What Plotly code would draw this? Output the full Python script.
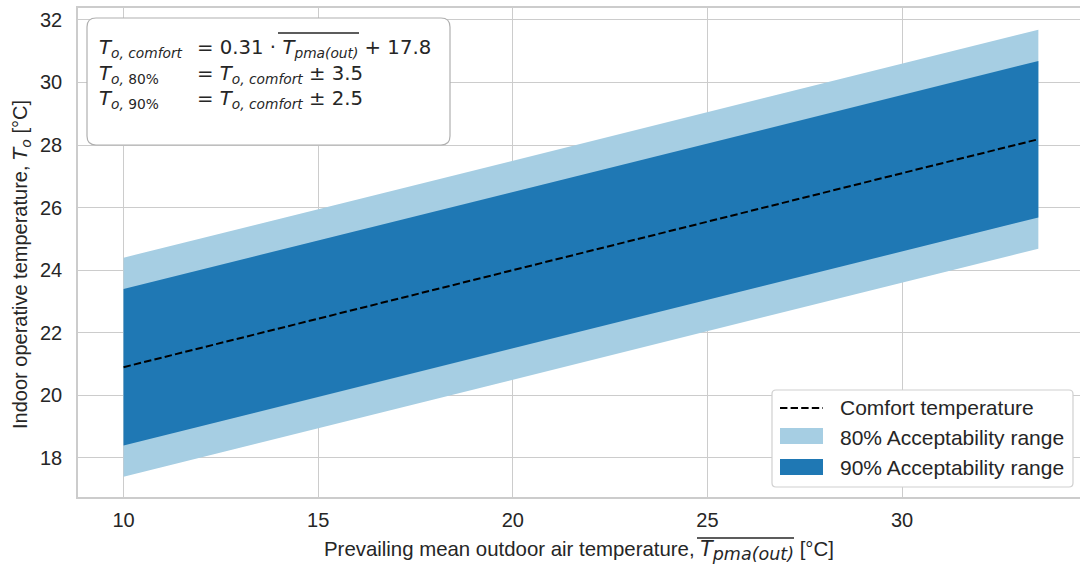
import plotly.graph_objects as go

# Data
x_vals = [10, 33.5]
comfort = [20.9, 28.185]
upper80 = [24.4, 31.685]
lower80 = [17.4, 24.685]
upper90 = [23.4, 30.685]
lower90 = [18.4, 25.685]
x_ticks = [10, 15, 20, 25, 30]
y_ticks = [18, 20, 22, 24, 26, 28, 30, 32]
legend_names = ["Comfort temperature", "80% Acceptability range", "90% Acceptability range"]

LIGHT = "#a6cee3"
DARK = "#1f78b4"
GRID = "#cccccc"
TXT = "#262626"
SANS = "Liberation Sans"
MATH = "DejaVu Sans"
DASH = "7.4px,3.2px"

fig = go.Figure()
fig.add_trace(go.Scatter(
    x=x_vals + x_vals[::-1], y=lower80 + upper80[::-1], fill="toself",
    fillcolor=LIGHT, line=dict(width=0, color=LIGHT), mode="lines",
    name=legend_names[1], hoverinfo="skip"))
fig.add_trace(go.Scatter(
    x=x_vals + x_vals[::-1], y=lower90 + upper90[::-1], fill="toself",
    fillcolor=DARK, line=dict(width=0, color=DARK), mode="lines",
    name=legend_names[2], hoverinfo="skip"))
fig.add_trace(go.Scatter(
    x=x_vals, y=comfort, mode="lines", name=legend_names[0],
    line=dict(color="black", width=2, dash=DASH)))

# plot area pixel geometry
L, R, T, B = 78, 0, 8, 68
W = 1080 - L - R
H = 565 - T - B

def px(xp):
    return (xp - L) / W

def py(yp):
    return 1 - (yp - T) / H

def rounded_box(x0p, y0p, x1p, y1p, r, color, width):
    bx0, bx1, by0, by1 = px(x0p), px(x1p), py(y0p), py(y1p)
    rx, ry = r / W, r / H
    path = (f"M {bx0+rx},{by0} L {bx1-rx},{by0} Q {bx1},{by0} {bx1},{by0-ry} "
            f"L {bx1},{by1+ry} Q {bx1},{by1} {bx1-rx},{by1} "
            f"L {bx0+rx},{by1} Q {bx0},{by1} {bx0},{by1+ry} "
            f"L {bx0},{by0-ry} Q {bx0},{by0} {bx0+rx},{by0} Z")
    fig.add_shape(type="path", path=path, xref="paper", yref="paper",
                  line=dict(color=color, width=width), fillcolor="white", layer="above")

# ---- equation box ----
rounded_box(87, 18, 450, 145, 9, "#b0b0b0", 1.2)
fs = 19.7
left_txt = [
    "<i>T</i><sub><i>o, comfort</i></sub>",
    "<i>T</i><sub><i>o,</i> 80%</sub>",
    "<i>T</i><sub><i>o,</i> 90%</sub>",
]
right_txt = [
    "= 0.31 · <i>T</i><sub><i>pma(out)</i></sub> + 17.8",
    "= <i>T</i><sub><i>o, comfort</i></sub> ± 3.5",
    "= <i>T</i><sub><i>o, comfort</i></sub> ± 2.5",
]
ys = [48, 75, 100]
for lt, rt, yy in zip(left_txt, right_txt, ys):
    fig.add_annotation(x=px(97), y=py(yy), xref="paper", yref="paper",
                       text=lt, showarrow=False, xanchor="left", yanchor="middle",
                       font=dict(family=MATH, size=fs, color=TXT))
    fig.add_annotation(x=px(195), y=py(yy), xref="paper", yref="paper",
                       text=rt, showarrow=False, xanchor="left", yanchor="middle",
                       font=dict(family=MATH, size=fs, color=TXT))
# overline over T_pma(out) in the box
fig.add_shape(type="line", xref="paper", yref="paper",
              x0=px(278), x1=px(359), y0=py(33), y1=py(33),
              line=dict(color=TXT, width=1.3), layer="above")

# ---- axis titles ----
fig.add_annotation(
    x=px(579), y=py(550), xref="paper", yref="paper", showarrow=False,
    xanchor="center", yanchor="middle",
    text="Prevailing mean outdoor air temperature, "
         f"<span style='font-family:{MATH}'><i>T</i><sub><span style='font-size:17.5px'><i>pma(out)</i></span></sub></span> [°C]",
    font=dict(family=SANS, size=20.4, color=TXT))
fig.add_shape(type="line", xref="paper", yref="paper",
              x0=px(697), x1=px(794), y0=py(538), y1=py(538),
              line=dict(color=TXT, width=1.3), layer="above")
fig.add_annotation(
    x=px(21), y=py(265), xref="paper", yref="paper", showarrow=False,
    xanchor="center", yanchor="middle", textangle=-90,
    text=f"Indoor operative temperature, <span style='font-family:{MATH}'><i>T</i><sub><i>o</i></sub></span> [°C]",
    font=dict(family=SANS, size=20, color=TXT))

# ---- legend (drawn manually to get patch-shaped keys) ----
rounded_box(772, 390, 1073, 487, 4, "#d0d0d0", 1.2)
fig.add_shape(type="line", xref="paper", yref="paper",
              x0=px(780), x1=px(823), y0=py(408), y1=py(408),
              line=dict(color="black", width=2, dash=DASH), layer="above")
fig.add_shape(type="rect", xref="paper", yref="paper",
              x0=px(780), x1=px(823), y0=py(428), y1=py(444),
              line=dict(width=0), fillcolor=LIGHT, layer="above")
fig.add_shape(type="rect", xref="paper", yref="paper",
              x0=px(780), x1=px(823), y0=py(459), y1=py(475),
              line=dict(width=0), fillcolor=DARK, layer="above")
for name, yy in zip(legend_names, [407, 437, 467]):
    fig.add_annotation(x=px(838), y=py(yy), xref="paper", yref="paper",
                       text=name, showarrow=False, xanchor="left", yanchor="middle",
                       font=dict(family=SANS, size=21, color=TXT))

axis_common = dict(showgrid=True, gridcolor=GRID, gridwidth=1.2,
                   showline=True, linecolor=GRID, linewidth=1.5, mirror=True,
                   ticks="", zeroline=False, automargin=False,
                   tickfont=dict(family=SANS, size=20, color=TXT))

fig.update_layout(
    width=1080, height=565,
    margin=dict(l=L, r=R, t=T, b=B),
    paper_bgcolor="white", plot_bgcolor="white",
    xaxis=dict(range=[8.83, 34.57], tickvals=x_ticks, ticklabelstandoff=4, **axis_common),
    yaxis=dict(range=[16.75, 32.38], tickvals=y_ticks, ticklabelstandoff=10, **axis_common),
    showlegend=False,
)

fig.write_html("out.html", config={"displayModeBar": False},
               post_script="document.body.style.margin='0';document.body.style.padding='0';")
